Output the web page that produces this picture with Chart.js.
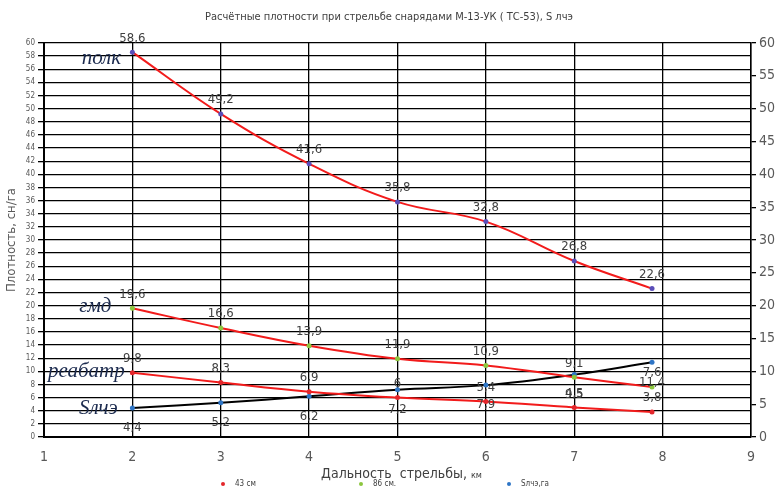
<!DOCTYPE html>
<html>
<head>
<meta charset="utf-8">
<script src="https://cdn.jsdelivr.net/npm/chart.js"></script>
<style>
  html, body { margin: 0; padding: 0; background: #fff; }
</style>
</head>
<body>
<canvas id="chart" width="778" height="494"></canvas>
<script>
// dal'nost' strel'by, km
var xValues = [2, 3, 4, 5, 6, 7, 7.88];
var polk = [58.6, 49.2, 41.6, 35.8, 32.8, 26.8, 22.6];
var gmd86 = [19.6, 16.6, 13.9, 11.9, 10.9, 9.1, 7.6];
var reabatr43 = [9.8, 8.3, 6.9, 6, 5.4, 4.5, 3.8];
var sLche = [4.4, 5.2, 6.2, 7.2, 7.9, 9.5, 11.4];
var legendNames = ["43 см", "86 см.", "Sлчэ,га"];
var leftTicks = [0, 60, 2];
var rightTicks = [0, 60, 5];
var xTicks = [1, 9, 1];

var FONT = "'Liberation Sans Narrow', 'DejaVu Sans Condensed', sans-serif";

function pts(ys) {
  return ys.map(function (y, i) { return { x: xValues[i], y: y }; });
}

// value labels next to every point, decimal comma
var valueLabels = {
  id: 'valueLabels',
  afterDatasetsDraw: function (chart) {
    var ctx = chart.ctx;
    ctx.save();
    ctx.font = '13px ' + FONT;
    ctx.fillStyle = '#404040';
    ctx.textAlign = 'center';
    ctx.textBaseline = 'middle';
    chart.data.datasets.forEach(function (ds, i) {
      var meta = chart.getDatasetMeta(i);
      meta.data.forEach(function (p, j) {
        var dy = ds.labelBelow ? 20 : -14;
        ctx.fillText(String(ds.data[j].y).replace('.', ','), p.x, p.y + dy);
      });
    });
    ctx.restore();
  }
};

// italic names at the left end of each line
var sideNotes = {
  id: 'sideNotes',
  afterDatasetsDraw: function (chart) {
    var ctx = chart.ctx;
    ctx.save();
    ctx.font = 'italic 21px "Liberation Serif", serif';
    ctx.fillStyle = '#1b2a4e';
    ctx.textAlign = 'center';
    ctx.textBaseline = 'middle';
    chart.data.datasets.forEach(function (ds, i) {
      var p = chart.getDatasetMeta(i).data[0];
      ctx.fillText(ds.note, p.x - ds.noteDx, p.y + ds.noteDy);
    });
    ctx.restore();
  }
};

// legend spread along the bottom like in the original
var bottomLegend = {
  id: 'bottomLegend',
  afterDraw: function (chart) {
    var ctx = chart.ctx;
    var xs = [223, 361, 509];
    ctx.save();
    ctx.font = '8px ' + FONT;
    ctx.textBaseline = 'middle';
    var items = chart.data.datasets.filter(function (d) { return d.legendIndex !== undefined; });
    items.forEach(function (ds) {
      var k = ds.legendIndex;
      ctx.fillStyle = ds.pointBackgroundColor;
      ctx.beginPath();
      ctx.arc(xs[k], 484, 2, 0, Math.PI * 2);
      ctx.fill();
      ctx.fillStyle = '#404040';
      ctx.fillText(legendNames[k], xs[k] + 12, 484);
    });
    ctx.restore();
  }
};

// x title: big words, small "км"
var xTitle = {
  id: 'xTitle',
  afterDraw: function (chart) {
    var ctx = chart.ctx;
    var a = "Дальность  стрельбы, ", b = "км";
    ctx.save();
    ctx.fillStyle = '#404040';
    ctx.textBaseline = 'alphabetic';
    ctx.font = '14px ' + FONT;
    var wa = ctx.measureText(a).width;
    ctx.font = '9px ' + FONT;
    var wb = ctx.measureText(b).width;
    var x0 = (chart.chartArea.left + chart.chartArea.right) / 2 - (wa + wb) / 2 + 4;
    ctx.font = '14px ' + FONT;
    ctx.fillText(a, x0, 478);
    ctx.font = '9px ' + FONT;
    ctx.fillText(b, x0 + wa, 478);
    ctx.restore();
  }
};

new Chart("chart", {
  type: "line",
  data: {
    datasets: [{
      label: "полк",
      note: "полк",
      noteDx: 31, noteDy: 6,
      data: pts(polk),
      borderColor: "#f21b1b",
      pointBackgroundColor: "#5a4db8",
      pointBorderColor: "#5a4db8"
    }, {
      label: "гмд",
      note: "гмд",
      legendIndex: 1,
      noteDx: 37, noteDy: -2,
      data: pts(gmd86),
      borderColor: "#f21b1b",
      pointBackgroundColor: "#8cc63e",
      pointBorderColor: "#8cc63e"
    }, {
      label: "реабатр",
      note: "реабатр",
      legendIndex: 0,
      noteDx: 46, noteDy: -1,
      data: pts(reabatr43),
      borderColor: "#f21b1b",
      pointBackgroundColor: "#e3262b",
      pointBorderColor: "#e3262b"
    }, {
      label: "Sлчэ",
      note: "Sлчэ",
      legendIndex: 2,
      noteDx: 34, noteDy: 0,
      labelBelow: true,
      data: pts(sLche),
      borderColor: "#000000",
      pointBackgroundColor: "#2e75c6",
      pointBorderColor: "#2e75c6"
    }]
  },
  options: {
    responsive: false,
    animation: false,
    layout: { padding: 0 },
    elements: {
      line: { borderWidth: 2, tension: 0.4, fill: false },
      point: { radius: 2.5, borderWidth: 0 }
    },
    plugins: {
      legend: { display: false },
      tooltip: { enabled: false },
      title: {
        display: true,
        text: "Расчётные плотности при стрельбе снарядами М-13-УК ( ТС-53), S лчэ",
        color: "#404040",
        font: { size: 11, family: FONT, weight: 'normal' },
        padding: { top: 11, bottom: 18.8 }
      }
    },
    scales: {
      x: {
        type: 'linear',
        min: xTicks[0], max: xTicks[1],
        ticks: { stepSize: xTicks[2], color: '#595959', font: { size: 14, family: FONT }, padding: 12 },
        grid: { color: '#000', lineWidth: 1.3, drawTicks: false },
        border: { color: '#000', width: 2 },
        afterFit: function (s) { s.height = 57; }
      },
      y: {
        min: leftTicks[0], max: leftTicks[1],
        ticks: { stepSize: leftTicks[2], color: '#595959', font: { size: 8, family: FONT }, padding: 3 },
        grid: { color: '#000', lineWidth: 1.3, tickLength: 6 },
        border: { color: '#000', width: 2 },
        title: {
          display: true,
          text: "Плотность, сн/га",
          color: '#595959',
          font: { size: 13, family: FONT },
          padding: { top: 4, bottom: 0 }
        },
        afterFit: function (s) { s.width = 44; }
      },
      y2: {
        position: 'right',
        min: rightTicks[0], max: rightTicks[1],
        ticks: { stepSize: rightTicks[2], color: '#595959', font: { size: 14, family: FONT }, padding: 3 },
        grid: { drawOnChartArea: false, color: '#000', tickLength: 5, lineWidth: 1.3 },
        border: { color: '#000', width: 1.5 },
        afterFit: function (s) { s.width = 27; }
      }
    }
  },
  plugins: [valueLabels, sideNotes, bottomLegend, xTitle]
});
</script>
</body>
</html>
